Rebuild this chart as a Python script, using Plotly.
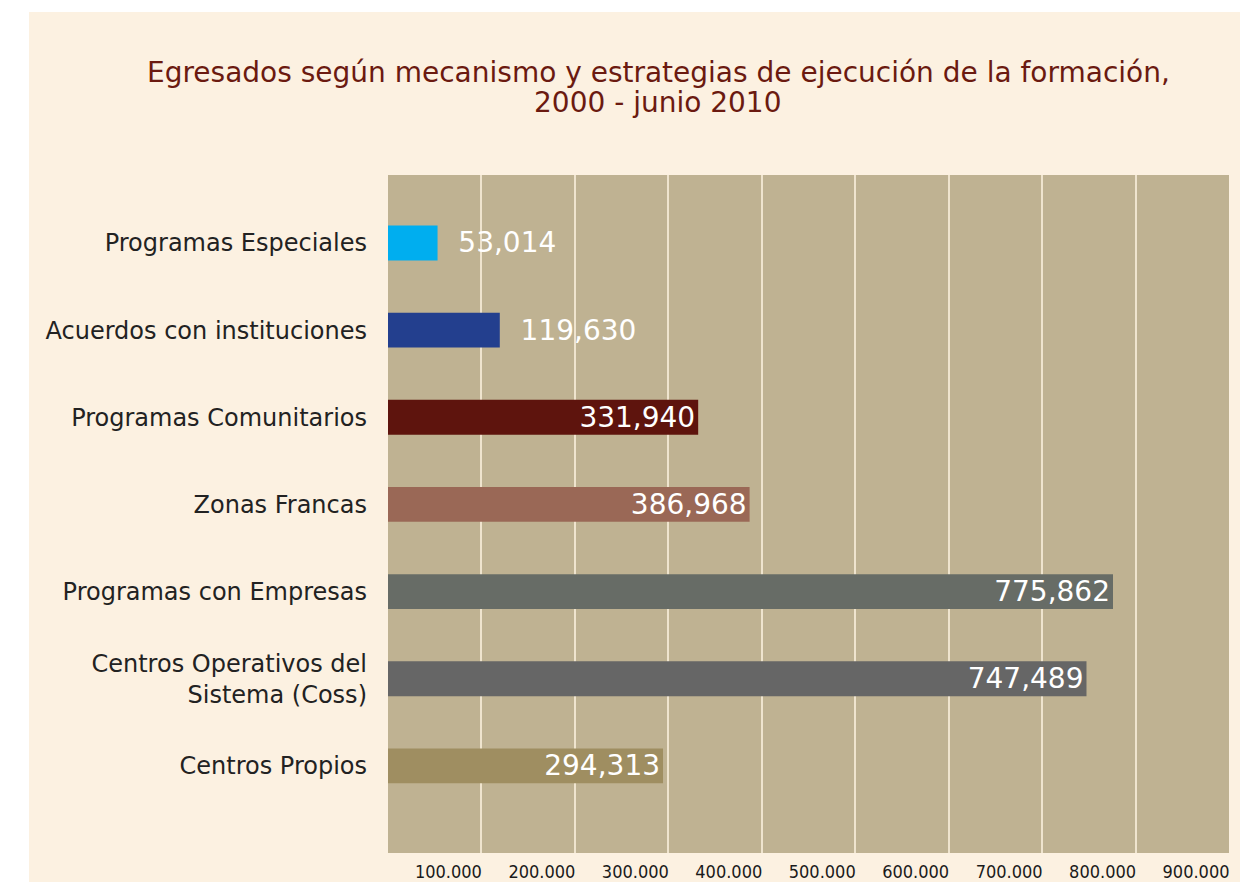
import plotly.graph_objects as go

categories = [
    "Programas Especiales",
    "Acuerdos con instituciones",
    "Programas Comunitarios",
    "Zonas Francas",
    "Programas con Empresas",
    "Centros Operativos del<br>Sistema (Coss)",
    "Centros Propios",
]
values = [53014, 119630, 331940, 386968, 775862, 747489, 294313]
bar_colors = ["#00AEEF", "#233F8E", "#5E140D", "#9A6856", "#676C66", "#666666", "#9F8E61"]
text_positions = ["outside", "outside", "inside", "inside", "inside", "inside", "inside"]
tick_values = [100000, 200000, 300000, 400000, 500000, 600000, 700000, 800000, 900000]
tick_labels = ["100.000", "200.000", "300.000", "400.000", "500.000", "600.000", "700.000", "800.000", "900.000"]
title_lines = [
    "Egresados según mecanismo y estrategias de ejecución de la formación,",
    "2000 - junio 2010",
]

labels = [("  " if p == "outside" else "") + f"{v:,}" for v, p in zip(values, text_positions)]

# page body has an 8px margin, so figure coords = screen coords - 8
W, H = 1248, 874
L, R, T, B = 380, 27, 167, 29
pw, ph = W - L - R, H - T - B

FONT = "DejaVu Sans, Liberation Sans, Arial, sans-serif"


def py(fy):
    """figure pixel y (from top) -> paper y"""
    return (H - B - fy) / ph


def px(fx):
    return (fx - L) / pw


fig = go.Figure(
    go.Bar(
        x=values,
        y=categories,
        orientation="h",
        marker=dict(color=bar_colors, line=dict(width=0)),
        width=0.40,
        text=labels,
        textposition=text_positions,
        insidetextanchor="end",
        textfont=dict(family=FONT, size=28, color="white"),
        insidetextfont=dict(family=FONT, size=28, color="white"),
        outsidetextfont=dict(family=FONT, size=28, color="white"),
        constraintext="none",
        cliponaxis=False,
        hoverinfo="skip",
    )
)

# white strips outside the cream panel (left and top)
fig.add_shape(type="rect", xref="paper", yref="paper",
              x0=px(0), x1=px(21), y0=py(H), y1=py(0),
              fillcolor="white", line=dict(width=0), layer="below")
fig.add_shape(type="rect", xref="paper", yref="paper",
              x0=px(0), x1=px(W), y0=py(4), y1=py(0),
              fillcolor="white", line=dict(width=0), layer="below")

for line, fy in zip(title_lines, [64, 94]):
    fig.add_annotation(
        text=line, xref="paper", yref="paper",
        x=px(650), y=py(fy), xanchor="center", yanchor="middle",
        showarrow=False,
        font=dict(family=FONT, size=28, color="#6B1A10"),
    )

fig.update_layout(
    width=W, height=H,
    margin=dict(l=L, r=R, t=T, b=B, pad=0, autoexpand=False),
    paper_bgcolor="#FCF1E1",
    plot_bgcolor="#BFB292",
    showlegend=False,
    xaxis=dict(
        range=[0, 900000],
        tickvals=tick_values,
        ticktext=tick_labels,
        showgrid=True,
        gridcolor="#EFE4CE",
        gridwidth=2,
        zeroline=False,
        showline=False,
        ticks="",
        ticklabelshift=-33,
        ticklabelstandoff=6,
        tickfont=dict(family="DejaVu Sans Condensed, Liberation Sans Narrow, Liberation Sans, sans-serif",
                      size=18, color="#1a1a1a"),
        automargin=False,
        fixedrange=True,
    ),
    yaxis=dict(
        type="category",
        range=[7.0, -0.78],
        showgrid=False,
        zeroline=False,
        showline=False,
        ticks="",
        ticklabelstandoff=20,
        tickfont=dict(family=FONT, size=24, color="#222222"),
        automargin=False,
        fixedrange=True,
    ),
)

fig.write_html("out.html")
